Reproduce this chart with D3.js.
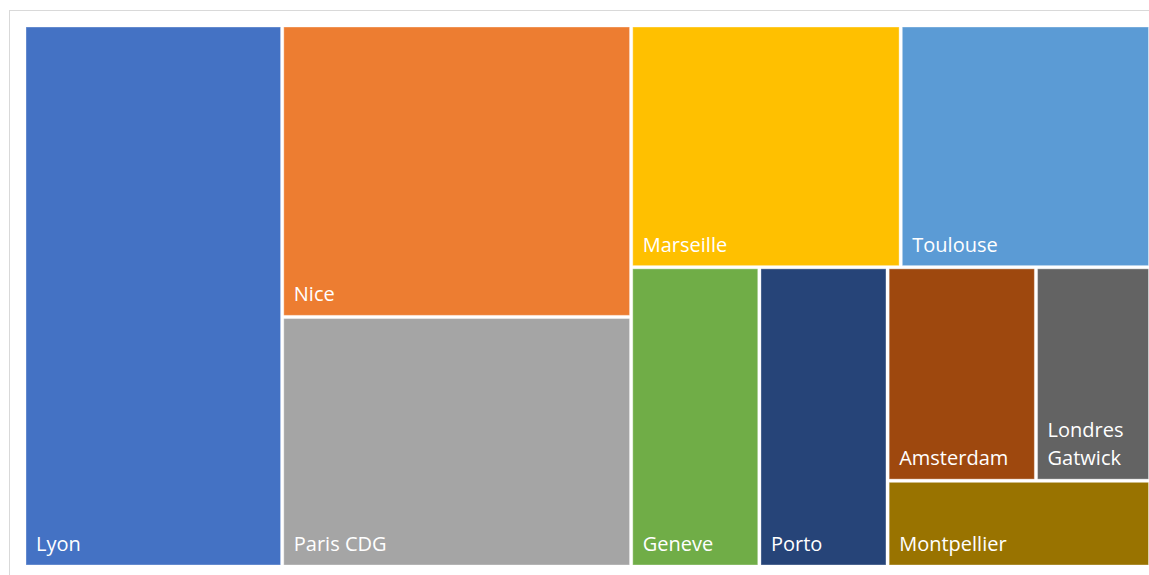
<!DOCTYPE html>
<html>
<head>
<meta charset="utf-8">
<script src="https://cdn.jsdelivr.net/npm/d3@7"></script>
<style>
  html, body { margin: 0; padding: 0; background: #ffffff; }
  svg { display: block; }
</style>
</head>
<body>
<svg id="chart" width="1149" height="575"></svg>
<script>
// Destinations and their weights
const categories = ["Lyon", "Nice", "Paris CDG", "Marseille", "Toulouse", "Geneve", "Porto", "Amsterdam", "Londres Gatwick", "Montpellier"];
const values = [229, 167, 143, 107, 99, 63, 63, 52, 40, 37];
const colors = ["#4472C4", "#ED7D31", "#A5A5A5", "#FFC000", "#5B9BD5", "#70AD47", "#264478", "#9E480E", "#636363", "#997300"];

// How many consecutive tiles share each strip of the layout
const stripSizes = [1, 2, 2, 1, 1, 2, 1];

const W = 1149, H = 575;
const area = { x0: 26, y0: 27, x1: 1148.5, y1: 565 };

const svg = d3.select("#chart");

// Chart frame
svg.append("rect")
  .attr("x", 9.5).attr("y", 10.5)
  .attr("width", 1200).attr("height", 600)
  .attr("fill", "none")
  .attr("stroke", "#d9d9d9")
  .attr("stroke-width", 1);

// Strip tiling: each strip runs along the shorter side of the remaining space
function stripTile(parent, x0, y0, x1, y1) {
  const nodes = parent.children;
  let remaining = parent.value;
  let i = 0;
  for (const size of stripSizes) {
    if (i >= nodes.length) break;
    const kids = nodes.slice(i, i + size);
    const sum = d3.sum(kids, d => d.value);
    const row = { value: sum, children: kids };
    const dx = x1 - x0, dy = y1 - y0;
    if (dx < dy) {
      const yb = y0 + dy * sum / remaining;
      d3.treemapDice(row, x0, y0, x1, yb);
      y0 = yb;
    } else {
      const xb = x0 + dx * sum / remaining;
      d3.treemapSlice(row, x0, y0, xb, y1);
      x0 = xb;
    }
    remaining -= sum;
    i += size;
  }
}

const data = {
  name: "root",
  children: categories.map((c, k) => ({ name: c, value: values[k], color: colors[k] }))
};

const root = d3.hierarchy(data).sum(d => d.value || 0);

d3.treemap()
  .tile(stripTile)
  .size([area.x1 - area.x0, area.y1 - area.y0])
  .paddingInner(3.2)
  (root);

const g = svg.append("g").attr("transform", `translate(${area.x0},${area.y0})`);

const cell = g.selectAll("g.cell")
  .data(root.leaves())
  .join("g")
  .attr("class", "cell");

cell.append("rect")
  .attr("x", d => d.x0)
  .attr("y", d => d.y0)
  .attr("width", d => d.x1 - d.x0)
  .attr("height", d => d.y1 - d.y0)
  .attr("fill", d => d.data.color)
  .attr("stroke", "rgba(255,255,255,0.35)")
  .attr("stroke-width", 1);

const fontSize = 20, lineH = 28, padX = 10, padBottom = 14;

cell.each(function(d) {
  const sel = d3.select(this);
  const text = sel.append("text")
    .attr("fill", "#ffffff")
    .attr("font-family", "'Open Sans', 'Noto Sans', sans-serif")
    .attr("font-size", fontSize);
  // Word-wrap label to the tile width
  const maxW = d.x1 - d.x0 - 2 * padX;
  const words = d.data.name.split(" ");
  const lines = [];
  let line = [];
  const probe = text.append("tspan");
  for (const w of words) {
    const test = line.concat(w).join(" ");
    probe.text(test);
    if (probe.node().getComputedTextLength() > maxW && line.length) {
      lines.push(line.join(" "));
      line = [w];
    } else {
      line.push(w);
    }
  }
  lines.push(line.join(" "));
  probe.remove();
  const baseY = d.y1 - padBottom;
  lines.forEach((l, k) => {
    text.append("tspan")
      .attr("x", d.x0 + padX)
      .attr("y", baseY - (lines.length - 1 - k) * lineH)
      .text(l);
  });
});
</script>
</body>
</html>
